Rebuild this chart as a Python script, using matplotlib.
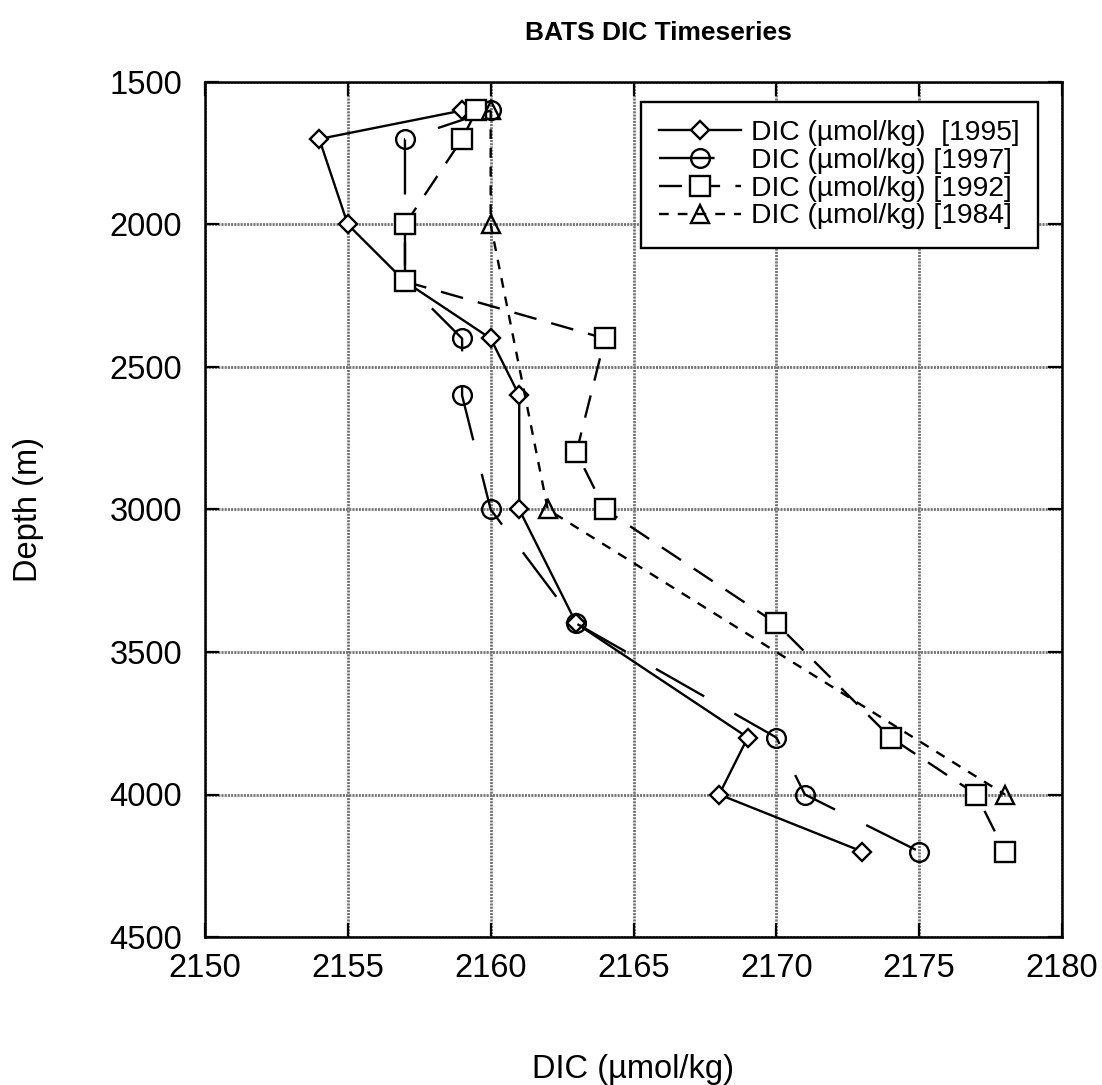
import matplotlib
matplotlib.use("Agg")
import matplotlib.pyplot as plt

plt.rcParams['font.family'] = ['Liberation Sans', 'DejaVu Sans']
plt.rcParams['lines.scale_dashes'] = False

# data
depth_1995 = [1600, 1700, 2000, 2200, 2400, 2600, 3000, 3400, 3800, 4000, 4200]
dic_1995 = [2159, 2154, 2155, 2157, 2160, 2161, 2161, 2163, 2169, 2168, 2173]

depth_1997 = [1600, 1700, 2000, 2200, 2400, 2600, 3000, 3400, 3800, 4000, 4200]
dic_1997 = [2160, 2157, 2157, 2157, 2159, 2159, 2160, 2163, 2170, 2171, 2175]

depth_1992 = [1600, 1700, 2000, 2200, 2400, 2800, 3000, 3400, 3800, 4000, 4200]
dic_1992 = [2159.5, 2159, 2157, 2157, 2164, 2163, 2164, 2170, 2174, 2177, 2178]

depth_1984 = [1600, 2000, 3000, 4000]
dic_1984 = [2160, 2160, 2162, 2178]

x_ticks = [2150, 2155, 2160, 2165, 2170, 2175, 2180]
y_ticks = [1500, 2000, 2500, 3000, 3500, 4000, 4500]

W, H = 1102, 1085
fig = plt.figure(figsize=(W / 100, H / 100), dpi=100)
ax = fig.add_axes([205 / W, (H - 937) / H, 857 / W, 855 / H])

lw = 1.7
mew = 1.7
ax.plot(dic_1995, depth_1995, color='black', lw=lw, ls='-', marker='D',
        ms=9.5, mfc='white', mec='black', mew=mew,
        label='DIC (µmol/kg)  [1995]')
ax.plot(dic_1997, depth_1997, color='black', lw=lw, ls=(0, (40, 25)),
        marker='o', ms=13.5, mfc='none', mec='black', mew=mew,
        label='DIC (µmol/kg) [1997]')
ax.plot(dic_1992, depth_1992, color='black', lw=lw, ls=(0, (16.5, 11)),
        marker='s', ms=14, mfc='white', mec='black', mew=mew,
        label='DIC (µmol/kg) [1992]')
ax.plot(dic_1984, depth_1984, color='black', lw=lw, ls=(0, (7, 6.5)),
        marker='^', ms=13, mfc='none', mec='black', mew=mew,
        label='DIC (µmol/kg) [1984]')

ax.set_xlim(2150, 2180)
ax.set_ylim(4500, 1500)
ax.set_xticks(x_ticks)
ax.set_yticks(y_ticks)

ax.grid(True, color='0.45', lw=2.0, ls=(0, (1.5, 0.8)))
ax.set_axisbelow(True)
for sp in ax.spines.values():
    sp.set_linewidth(1.8)

ax.tick_params(direction='in', length=10, width=1.6, top=True, right=True,
               labelsize=23.5)
ax.tick_params(axis='y', pad=16.5)
ax.tick_params(axis='x', pad=11.5)

ax.set_title('BATS DIC Timeseries', fontsize=19, fontweight='bold', pad=30,
             x=(658 - 205) / 857)

ax.set_xlabel('DIC (µmol/kg)', fontsize=23.5)
ax.xaxis.label.set_va('baseline')
ax.xaxis.set_label_coords(0.5, -(1078 - 937) / 855)

ax.set_ylabel('Depth (m)', fontsize=23.5)
ax.yaxis.set_label_coords((44 - 205) / 857, 0.5)

leg = ax.legend(loc='upper right', bbox_to_anchor=(1038 / W, 1 - 102 / H),
                bbox_transform=fig.transFigure, borderaxespad=0,
                fontsize=20.3, handlelength=2.9, handletextpad=0.35,
                labelspacing=0.06, borderpad=0.65, numpoints=1,
                fancybox=False, framealpha=1, edgecolor='black')
leg.get_frame().set_linewidth(1.7)

plt.savefig('out.png', dpi=100)
